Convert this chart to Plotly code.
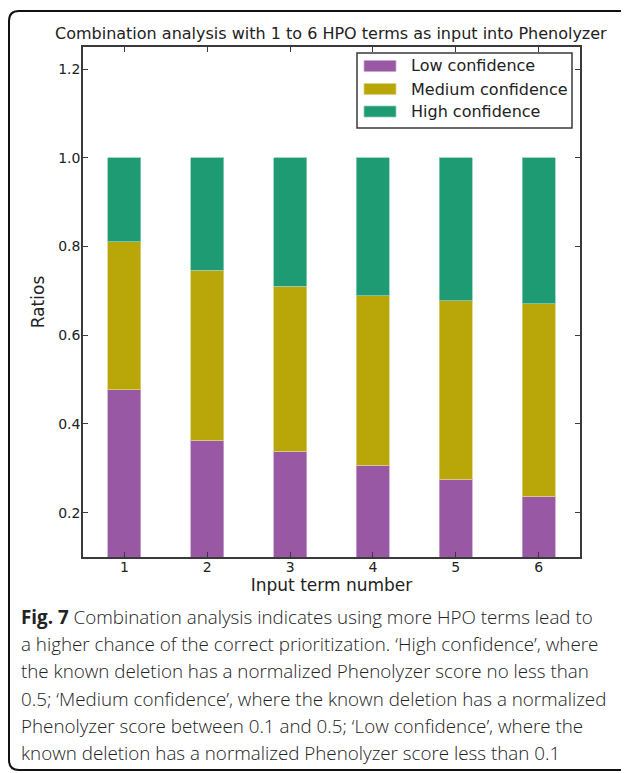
import plotly.graph_objects as go

# ---- data ----
input_terms = [1, 2, 3, 4, 5, 6]
tick_labels = ["1", "2", "3", "4", "5", "6"]
low_conf = [0.477, 0.363, 0.338, 0.307, 0.275, 0.237]
medium_conf = [0.334, 0.384, 0.372, 0.382, 0.403, 0.434]
high_conf = [0.189, 0.253, 0.290, 0.311, 0.322, 0.329]
series_names = ["Low confidence", "Medium confidence", "High confidence"]
series_colors = ["#9958A4", "#B9A608", "#1F9B73"]
edge_colors = ["#C9A6CF", "#DCD27F", "#8FCDB9"]

title_text = "Combination analysis with 1 to 6 HPO terms as input into Phenolyzer"
caption_lines = [
    "<b>Fig. 7</b> Combination analysis indicates using more HPO terms lead to",
    "a higher chance of the correct prioritization. \u2018High confidence\u2019, where",
    "the known deletion has a normalized Phenolyzer score no less than",
    "0.5; \u2018Medium confidence\u2019, where the known deletion has a normalized",
    "Phenolyzer score between 0.1 and 0.5; \u2018Low confidence\u2019, where the",
    "known deletion has a normalized Phenolyzer score less than 0.1",
]

OFF = 8  # browser body margin
W, H = 629 - OFF, 773 - OFF
# plot area in page pixels
PL, PR, PT, PB = 83, 580, 47, 557
L, R, T, B = PL - OFF, PR - OFF, PT - OFF, PB - OFF


def px(x):  # page pixel -> paper
    return (x - PL) / (PR - PL)


def py(y):
    return (PB - y) / (PB - PT)


fig = go.Figure()
for vals, name, col, ec in zip([low_conf, medium_conf, high_conf], series_names, series_colors, edge_colors):
    fig.add_trace(go.Bar(
        x=input_terms, y=vals, name=name, width=0.4,
        marker=dict(color=col, line=dict(color=ec, width=0.8)),
        showlegend=False,
    ))

chart_font = "DejaVu Sans"
axis_col = "#3a3a3a"

fig.update_layout(
    width=W, height=H,
    barmode="stack",
    paper_bgcolor="white", plot_bgcolor="white",
    margin=dict(l=L, r=W - R, t=T, b=H - B, pad=0),
    font=dict(family=chart_font, size=14, color="#222"),
    xaxis=dict(
        range=[0.5, 6.5], tickvals=input_terms, ticktext=tick_labels,
        showline=True, linecolor=axis_col, linewidth=1.5, mirror="ticks",
        ticks="inside", ticklen=5, tickcolor=axis_col, tickwidth=1,
        showgrid=False, zeroline=False, ticklabelstandoff=-4,
        tickfont=dict(size=14, color="#222"),
        title=dict(text="Input term number", font=dict(size=17, color="#222"), standoff=2),
    ),
    yaxis=dict(
        range=[0.1, 1.25], tick0=0, dtick=0.2, tickformat=".1f",
        showline=True, linecolor=axis_col, linewidth=1.5, mirror="ticks",
        ticks="inside", ticklen=5, tickcolor=axis_col, tickwidth=1,
        showgrid=False, zeroline=False, ticklabelstandoff=-2,
        tickfont=dict(size=14, color="#222"),
        title=dict(text="Ratios", font=dict(size=17, color="#222"), standoff=9),
    ),
)

shapes = []
annotations = []

# outer rounded frame
fx0, fy0, fx1, fy1, r = 9, 11, 630, 770, 10
path = (
    f"M {px(fx0 + r)},{py(fy0)} L {px(fx1 - r)},{py(fy0)} "
    f"Q {px(fx1)},{py(fy0)} {px(fx1)},{py(fy0 + r)} "
    f"L {px(fx1)},{py(fy1 - r)} Q {px(fx1)},{py(fy1)} {px(fx1 - r)},{py(fy1)} "
    f"L {px(fx0 + r)},{py(fy1)} Q {px(fx0)},{py(fy1)} {px(fx0)},{py(fy1 - r)} "
    f"L {px(fx0)},{py(fy0 + r)} Q {px(fx0)},{py(fy0)} {px(fx0 + r)},{py(fy0)} Z"
)
shapes.append(dict(type="path", xref="paper", yref="paper", path=path,
                   line=dict(color="#111", width=2), fillcolor="rgba(0,0,0,0)", layer="below"))

# custom legend
lx0, ly0, lx1, ly1 = 357, 53, 572, 128
shapes.append(dict(type="rect", xref="paper", yref="paper",
                   x0=px(lx0), x1=px(lx1), y0=py(ly1), y1=py(ly0),
                   line=dict(color=axis_col, width=1.5), fillcolor="white"))
row_y = [66, 89, 111.5]
for name, col, ec, yy in zip(series_names, series_colors, edge_colors, row_y):
    shapes.append(dict(type="rect", xref="paper", yref="paper",
                       x0=px(364), x1=px(396), y0=py(yy + 5.5), y1=py(yy - 5.5),
                       line=dict(color=ec, width=0.8), fillcolor=col))
    annotations.append(dict(xref="paper", yref="paper", x=px(409), y=py(yy),
                            text=name, showarrow=False, xanchor="left", yanchor="middle",
                            font=dict(family=chart_font, size=16, color="#222")))

# title
annotations.append(dict(xref="paper", yref="paper", x=px(331), y=py(33), text=title_text,
                        showarrow=False, xanchor="center", yanchor="middle",
                        font=dict(family=chart_font, size=16, color="#222")))

# caption
cap_y0, cap_dy = 617, 27.2
for i, line in enumerate(caption_lines):
    annotations.append(dict(xref="paper", yref="paper", x=px(19), y=py(cap_y0 + i * cap_dy),
                            text=line, showarrow=False, xanchor="left", yanchor="middle",
                            font=dict(family="Open Sans", size=18.8, color="#222", weight=300)))

fig.update_layout(shapes=shapes, annotations=annotations)
fig.write_html("out.html")
